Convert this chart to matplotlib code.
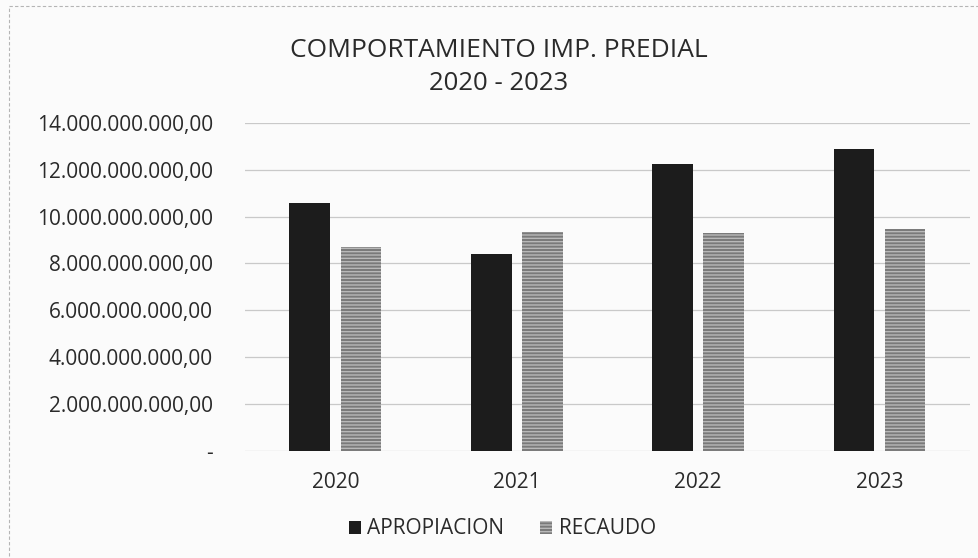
import matplotlib
matplotlib.use("Agg")
import matplotlib.pyplot as plt
import numpy as np
from matplotlib.patches import Rectangle
from matplotlib.ticker import FuncFormatter, MultipleLocator

years = ["2020", "2021", "2022", "2023"]
apropiacion = [10.58e9, 8.41e9, 12.22e9, 12.89e9]
recaudo = [8.69e9, 9.32e9, 9.28e9, 9.46e9]

plt.rcParams["font.family"] = ["Open Sans", "DejaVu Sans"]
_TEXT = "#2a2a2a"


def _fmt(v, pos):
    if v == 0:
        return "-"
    s = f"{v:,.2f}"
    return s.replace(",", "X").replace(".", ",").replace("X", ".")


fig = plt.figure(figsize=(9.79, 5.58), dpi=100, facecolor="#fbfbfb")
ax = fig.add_axes([0.250, 0.192, 0.741, 0.588])
ax.set_facecolor("#fbfbfb")

# dashed chart frame (scan edge)
fig.patches.append(Rectangle((0.009, -0.05), 1.2, 1.04, transform=fig.transFigure,
                             fill=False, ls=(0, (3, 2)), lw=0.8, ec="#b5b5b5"))

x = np.arange(len(years))
w = 0.225
off = 0.141
ax.bar(x - off, apropiacion, w, color="#1c1c1c", zorder=3, label="APROPIACION")
ax.bar(x + off, recaudo, w, color="#7a7a7a", hatch="-----", edgecolor="#b9b9b9",
       lw=0, zorder=3, label="RECAUDO")

ax.set_xlim(-0.5, 3.5)
ax.set_ylim(0, 14e9)
ax.yaxis.set_major_locator(MultipleLocator(2e9))
ax.yaxis.set_major_formatter(FuncFormatter(_fmt))
ax.grid(axis="y", color="#c9c9c9", lw=0.9, zorder=0)
for s in ax.spines.values():
    s.set_visible(False)
ax.set_xticks(x, years)
ax.tick_params(axis="both", length=0, labelsize=15, colors=_TEXT)
ax.tick_params(axis="y", pad=23)
ax.tick_params(axis="x", pad=15)

fig.text(0.510, 0.910, "COMPORTAMIENTO IMP. PREDIAL", ha="center", va="center",
         fontsize=19, color=_TEXT)
fig.text(0.509, 0.850, "2020 - 2023", ha="center", va="center",
         fontsize=18.5, color=_TEXT)

leg = fig.legend(loc="center", bbox_to_anchor=(0.513, 0.052), ncol=2, frameon=False,
                 fontsize=15, handlelength=0.6, handleheight=0.6, handletextpad=0.3,
                 columnspacing=1.7)
for t in leg.get_texts():
    t.set_color(_TEXT)

fig.savefig("out.png", dpi=100, facecolor=fig.get_facecolor())
